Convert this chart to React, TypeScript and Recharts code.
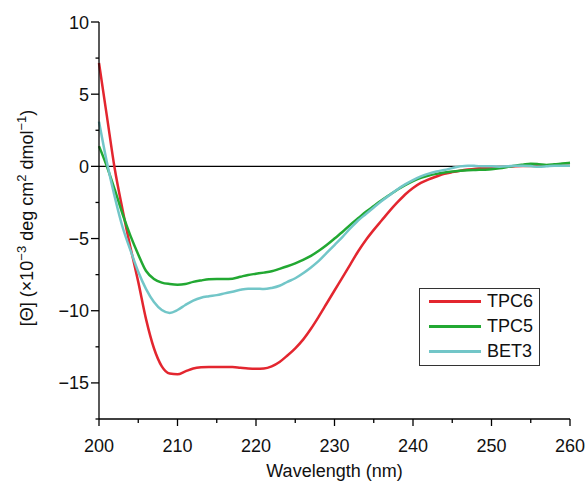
import React from "react";
import {
  LineChart,
  Line,
  XAxis,
  YAxis,
  ReferenceLine,
  Legend,
  Label,
} from "recharts";

// CD spectra, mean residue ellipticity (x10^-3)
const wavelengths = [
  200, 201, 202, 203, 204, 205, 206, 207, 208, 209, 210, 211, 212, 213, 214,
  215, 216, 217, 218, 219, 220, 221, 222, 223, 224, 225, 226, 227, 228, 229,
  230, 231, 232, 233, 234, 235, 236, 237, 238, 239, 240, 241, 242, 243, 244,
  245, 246, 247, 248, 249, 250, 251, 252, 253, 254, 255, 256, 257, 258, 259,
  260,
];

const tpc6 = [
  7.16, 3.5, -0.15, -3.0, -5.6, -8.0, -10.6, -12.6, -13.85, -14.35, -14.4,
  -14.2, -14.0, -13.92, -13.9, -13.9, -13.9, -13.9, -13.95, -14.0, -14.02,
  -14.0, -13.85, -13.55, -13.1, -12.6, -12.0, -11.25, -10.4, -9.5, -8.6, -7.7,
  -6.8, -5.9, -5.1, -4.4, -3.75, -3.1, -2.5, -1.95, -1.5, -1.15, -0.9, -0.7,
  -0.52, -0.4, -0.3, -0.22, -0.16, -0.12, -0.08, -0.05, -0.02, 0, 0.02, 0.03,
  0.03, 0.04, 0.04, 0.05, 0.05,
];

const tpc5 = [
  1.4, 0, -1.6, -3.3, -4.8, -6.1, -7.25, -7.8, -8.05, -8.15, -8.2, -8.15, -8.0,
  -7.9, -7.82, -7.8, -7.8, -7.78, -7.65, -7.52, -7.44, -7.36, -7.27, -7.1,
  -6.92, -6.72, -6.48, -6.2, -5.85, -5.45, -5.0, -4.55, -4.05, -3.6, -3.15,
  -2.75, -2.35, -1.98, -1.62, -1.3, -1.02, -0.8, -0.64, -0.52, -0.43, -0.36,
  -0.31, -0.27, -0.25, -0.23, -0.2, -0.14, -0.05, 0.05, 0.12, 0.18, 0.15, 0.1,
  0.14, 0.2, 0.25,
];

const bet3 = [
  3.1, 0.3, -2.1, -4.2, -5.8, -7.3, -8.5, -9.4, -9.95, -10.15, -9.95, -9.6,
  -9.3, -9.1, -9.0, -8.92, -8.8, -8.68, -8.55, -8.47, -8.47, -8.5, -8.42,
  -8.27, -8.0, -7.75, -7.4, -7.0, -6.55, -6.0, -5.45, -4.9, -4.3, -3.75, -3.3,
  -2.85, -2.4, -2.0, -1.6, -1.25, -0.95, -0.7, -0.5, -0.35, -0.25, -0.12, 0,
  0.05, 0.03, 0, 0, -0.02, 0, 0.04, 0.05, 0.02, -0.03, 0, 0.04, 0.05, 0.05,
];

const seriesNames = ["TPC6", "TPC5", "BET3"];
const xTicks = [200, 205, 210, 215, 220, 225, 230, 235, 240, 245, 250, 255, 260];
const yTicks = [-17.5, -15, -12.5, -10, -7.5, -5, -2.5, 0, 2.5, 5, 7.5, 10];

const FONT = "'Liberation Sans', Arial, Helvetica, sans-serif";
const RED = "#e3262f";
const GREEN = "#22a832";
const CYAN = "#72c6c8";

const data = wavelengths.map((w, i) => ({
  nm: w,
  TPC6: tpc6[i],
  TPC5: tpc5[i],
  BET3: bet3[i],
}));

const fmt = (v: number) => (v < 0 ? `\u2212${Math.abs(v)}` : `${v}`);

function XTick(props: any) {
  const { x, y, payload } = props;
  const major = payload.value % 10 === 0;
  return (
    <g>
      <line x1={x} x2={x} y1={y} y2={y + (major ? 7 : 4)} stroke="#000" strokeWidth={1.3} />
      {major && (
        <text x={x} y={y + 33} textAnchor="middle" fontSize={18} fontFamily={FONT} fill="#111">
          {payload.value}
        </text>
      )}
    </g>
  );
}

function YTick(props: any) {
  const { x, y, payload } = props;
  const major = payload.value % 5 === 0;
  return (
    <g>
      <line x1={x - (major ? 8 : 3.5)} x2={x} y1={y} y2={y} stroke="#000" strokeWidth={1.3} />
      {major && (
        <text x={x - 10} y={y + 6.5} textAnchor="end" fontSize={18} fontFamily={FONT} fill="#111">
          {fmt(payload.value)}
        </text>
      )}
    </g>
  );
}

function YLabel() {
  const cx = 27;
  const cy = 218;
  return (
    <text
      x={cx}
      y={cy}
      transform={`rotate(-90, ${cx}, ${cy})`}
      textAnchor="middle"
      fontSize={18}
      fontFamily={FONT}
      fill="#111"
      dy={6}
    >
      [Θ] (×10
      <tspan dy={-7} fontSize={13}>{"\u22123"}</tspan>
      <tspan dy={7}> deg cm</tspan>
      <tspan dy={-7} fontSize={13}>2</tspan>
      <tspan dy={7}> dmol</tspan>
      <tspan dy={-7} fontSize={13}>{"\u22121"}</tspan>
      <tspan dy={7}>)</tspan>
    </text>
  );
}

function XLabel(props: any) {
  const vb = props.viewBox || {};
  const cx = (vb.x ?? 0) + (vb.width ?? 0) / 2;
  return (
    <text x={cx} y={(vb.y ?? 0) + 58} textAnchor="middle" fontSize={18} fontFamily={FONT} fill="#111">
      Wavelength (nm)
    </text>
  );
}

function LegendBox({ payload }: any) {
  const items = [...(payload || [])].sort(
    (a: any, b: any) => seriesNames.indexOf(a.value) - seriesNames.indexOf(b.value)
  );
  return (
    <div
      style={{
        border: "1px solid #333",
        width: 119,
        height: 76,
        boxSizing: "content-box",
        fontFamily: FONT,
        fontSize: 18,
        color: "#111",
        background: "#fff",
      }}
    >
      {items.map((p: any) => (
        <div key={p.value} style={{ display: "flex", alignItems: "center", height: 25, marginTop: 0 }}>
          <div style={{ width: 52, height: 3, background: p.color, marginLeft: 9, marginRight: 6 }} />
          <span>{p.value}</span>
        </div>
      ))}
    </div>
  );
}

export default function App() {
  return (
    <div style={{ position: "absolute", left: 0, top: 0 }}>
      <LineChart
        width={586}
        height={483}
        data={data}
        margin={{ top: 22, right: 16, bottom: 0, left: 0 }}
      >
        <XAxis
          dataKey="nm"
          type="number"
          domain={[200, 260]}
          ticks={xTicks}
          interval={0}
          height={64}
          tickSize={0}
          tickMargin={0}
          tickLine={false}
          tick={<XTick />}
          stroke="#000"
          strokeWidth={1.3}
        >
          <Label content={<XLabel />} />
        </XAxis>
        <YAxis
          type="number"
          domain={[-17.5, 10]}
          ticks={yTicks}
          interval={0}
          width={99}
          tickSize={0}
          tickMargin={0}
          tickLine={false}
          tick={<YTick />}
          stroke="#000"
          strokeWidth={1.3}
        >
          <Label content={<YLabel />} />
        </YAxis>
        <ReferenceLine y={0} stroke="#000" strokeWidth={1.3} />
        <Line type="monotone" dataKey="TPC6" stroke={RED} strokeWidth={2.5} dot={false} isAnimationActive={false} />
        <Line type="monotone" dataKey="TPC5" stroke={GREEN} strokeWidth={2.5} dot={false} isAnimationActive={false} />
        <Line type="monotone" dataKey="BET3" stroke={CYAN} strokeWidth={2.5} dot={false} isAnimationActive={false} />
        <Legend
          layout="vertical"
          align="center"
          verticalAlign="middle"
          content={<LegendBox />}
          wrapperStyle={{ left: 419, top: 288, width: 121, height: 78 }}
        />
      </LineChart>
    </div>
  );
}
